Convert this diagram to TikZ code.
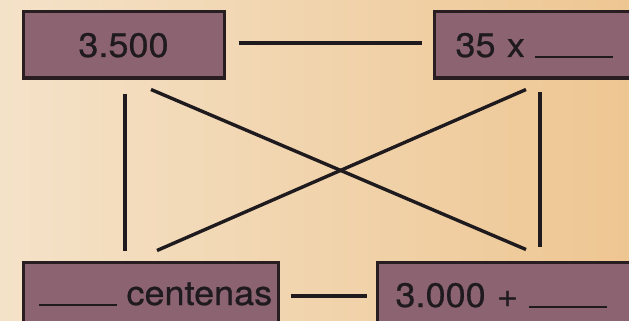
\documentclass[tikz,border=0pt]{standalone}
\usepackage{fontspec}
\newfontfamily\boxfont[FakeStretch=1.06,FakeBold=0.6]{TeX Gyre Heros}
\usetikzlibrary{calc}
\definecolor{bgleft}{RGB}{244,226,200}
\definecolor{bgright}{RGB}{238,198,146}
\definecolor{boxfill}{RGB}{140,99,112}
\definecolor{boxline}{RGB}{40,30,34}
\definecolor{ink}{RGB}{30,26,30}
\newcommand{\blankline}{\rule[-1pt]{78pt}{1.8pt}}
\begin{document}
\begin{tikzpicture}[x=1pt,y=-1pt,
  box/.style={draw=boxline, fill=boxfill, line width=3pt, text=ink,
    font=\boxfont\fontsize{34}{40}\selectfont, text height=24pt, text depth=0pt,
    inner ysep=0pt},
  conn/.style={draw=ink, line width=3.4pt}]
\shade[left color=bgleft, right color=bgright] (0,0) rectangle (629,321);
\useasboundingbox (0,0) rectangle (629,321);
\clip (0,0) rectangle (629,321);
\node[box, minimum width=201pt, minimum height=66pt, inner xsep=0pt] (a) at (123.5,45) {3.500};
\node[box, minimum width=206pt, minimum height=66pt, inner xsep=21.5pt, text width=163pt, align=left] (b) at (537,45) {\mbox{35 x\hspace{10pt}\blankline}};
\node[box, minimum width=255pt, minimum height=62pt, inner xsep=16pt, text width=223pt, align=left] (c) at (150.5,293) {\mbox{\blankline\hspace{9.5pt}centenas}};
\node[box, minimum width=263pt, minimum height=66pt, inner xsep=18.5pt, text width=226pt, align=left] (d) at (508.5,295) {\mbox{3.000 +\hspace{11pt}\blankline}};
\draw[conn] ($(a.east)+(13,-2)$) -- ($(b.west)+(-11,-2)$);
\draw[conn] ($(c.east)+(11,3)$) -- ($(d.west)+(-9,1)$);
\draw[conn] ($(a.south)+(1.5,14)$) -- ($(c.north)+(-25.5,-10)$);
\draw[conn] ($(b.south)+(3,12)$) -- ($(d.north)+(31.5,-14)$);
\draw[conn] ($(a.south)+(27.5,10)$) -- ($(d.north)+(17.5,-11)$);
\draw[conn] ($(b.south)+(-11,10)$) -- ($(c.north)+(6.5,-10)$);
\end{tikzpicture}
\end{document}
